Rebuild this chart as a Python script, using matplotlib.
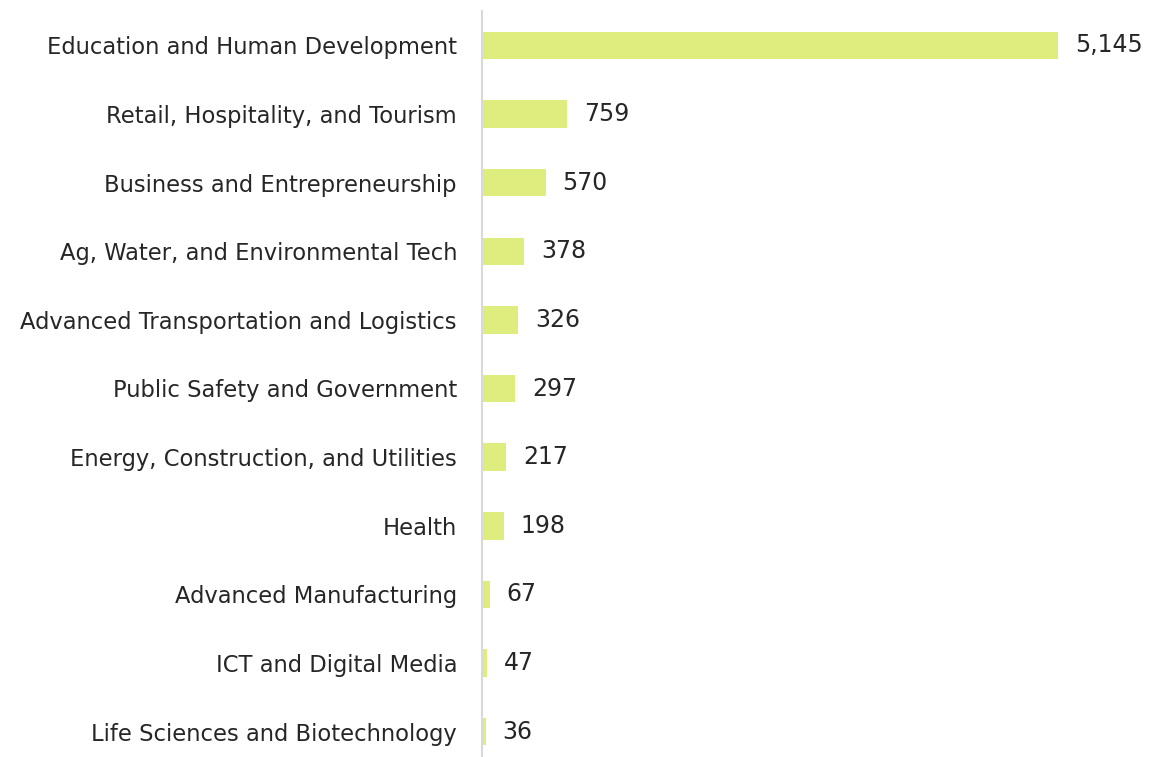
import matplotlib
matplotlib.use("Agg")
import matplotlib.pyplot as plt

categories = [
    "Education and Human Development",
    "Retail, Hospitality, and Tourism",
    "Business and Entrepreneurship",
    "Ag, Water, and Environmental Tech",
    "Advanced Transportation and Logistics",
    "Public Safety and Government",
    "Energy, Construction, and Utilities",
    "Health",
    "Advanced Manufacturing",
    "ICT and Digital Media",
    "Life Sciences and Biotechnology",
]
values = [5145, 759, 570, 378, 326, 297, 217, 198, 67, 47, 36]

W, H = 1156, 757
fig = plt.figure(figsize=(W / 100, H / 100), dpi=100)
left = 482 / W
top = 1 - 11 / H
bottom = 1 - 766 / H
ax = fig.add_axes([left, bottom, 1 - left, top - bottom])

y = list(range(len(categories)))
ax.barh(y, values, height=0.4, color="#DFEC7E", zorder=2)
ax.set_ylim(len(categories) - 0.5, -0.5)
ax.set_xlim(0, 6020)

for yi, v in zip(y, values):
    ax.annotate(f"{v:,}", (v, yi), xytext=(12, 0), textcoords="offset points",
                va="center", ha="left", fontsize=17, color="#262626")

ax.set_yticks(y)
ax.set_yticklabels(categories, fontsize=16.3, color="#262626")
ax.tick_params(axis="y", length=0, pad=18)
ax.set_xticks([])
for s in ["top", "right", "bottom"]:
    ax.spines[s].set_visible(False)
ax.spines["left"].set_color("#D9D9D9")
ax.spines["left"].set_linewidth(1.5)

fig.savefig("out.png", dpi=100)
